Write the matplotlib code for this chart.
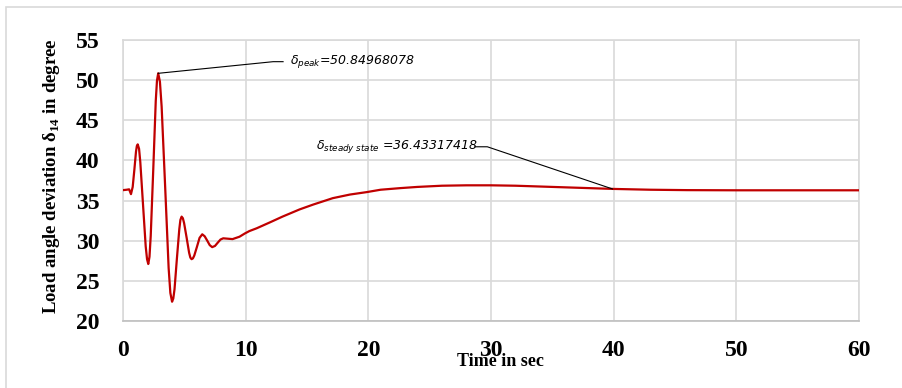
import matplotlib
matplotlib.use("Agg")
import matplotlib.pyplot as plt
from matplotlib.patches import Rectangle

plt.rcParams['mathtext.fontset'] = 'custom'
plt.rcParams['mathtext.rm'] = 'Liberation Serif'
plt.rcParams['mathtext.bf'] = 'Liberation Serif:bold'
plt.rcParams['mathtext.it'] = 'DejaVu Sans:italic'

time_s = [0, 0.3, 0.5, 0.65, 0.79, 0.93, 1.06, 1.13, 1.2, 1.31, 1.41, 1.63, 1.85, 1.96, 2.06,
          2.16, 2.26, 2.47, 2.67, 2.77, 2.87, 3.01, 3.15, 3.44, 3.72, 3.86, 4.0, 4.1, 4.2, 4.39,
          4.59, 4.68, 4.78, 4.88, 4.98, 5.19, 5.39, 5.49, 5.59, 5.7, 5.81, 6.03, 6.24, 6.46,
          6.66, 6.87, 7.07, 7.27, 7.5, 7.72, 7.95, 8.17, 8.55, 8.93, 9.5, 9.93, 10.3, 10.9,
          12, 13, 14.4, 15.5, 17.1, 18.5, 19.85, 21, 22.6, 24, 26, 28, 30, 32, 34, 36, 38, 40,
          43, 46, 50, 55, 60]
delta_deg = [36.3, 36.35, 36.4, 35.8, 36.7, 38.9, 41.1, 41.8, 42.0, 41.45, 39.8, 34.55, 29.3, 27.7, 27.1,
             28.0, 30.6, 39.0, 47.4, 49.95, 50.85, 49.8, 46.7, 36.6, 26.6, 23.5, 22.4, 22.8, 23.95, 27.7,
             31.45, 32.6, 33.0, 32.8, 32.2, 30.35, 28.5, 27.9, 27.7, 27.8, 28.15, 29.25, 30.35, 30.8,
             30.55, 30.0, 29.45, 29.2, 29.35, 29.75, 30.15, 30.3, 30.25, 30.2, 30.5, 30.9, 31.2, 31.55,
             32.3, 33.0, 33.9, 34.5, 35.3, 35.75, 36.05, 36.35, 36.55, 36.7, 36.85, 36.9, 36.9, 36.85,
             36.75, 36.65, 36.55, 36.45, 36.35, 36.3, 36.28, 36.28, 36.28]

x_ticks = [0, 10, 20, 30, 40, 50, 60]
y_ticks = [20, 25, 30, 35, 40, 45, 50, 55]
peak_label = r"$\delta_{peak}$=50.84968078"
steady_label = r"$\delta_{steady\ state}$ =36.43317418"
peak_point = (2.87, 50.85)
steady_point = (39.9, 36.45)

fig = plt.figure(figsize=(9.02, 3.88), dpi=100)
fig.patches.append(Rectangle((6/902, -0.1), 2.0, 1.1 - 7/388, transform=fig.transFigure,
                             fill=False, edgecolor='#d9d9d9', linewidth=1.2))
ax = fig.add_axes([123/902, 67/388, 736/902, 281/388])
ax.plot(time_s, delta_deg, color='#c00000', linewidth=1.6, zorder=3)
ax.set_xlim(0, 60)
ax.set_ylim(20, 55)
ax.set_xticks(x_ticks)
ax.set_yticks(y_ticks)
ax.grid(True, color='#d9d9d9', linewidth=1.2)
ax.set_axisbelow(True)
for s in ax.spines.values():
    s.set_color('#d9d9d9')
    s.set_linewidth(1.2)
ax.spines['bottom'].set_color('#bfbfbf')
ax.tick_params(axis='x', length=0, pad=14)
ax.tick_params(axis='y', length=0, pad=17)
for lab in ax.get_xticklabels() + ax.get_yticklabels():
    lab.set_fontfamily('Liberation Serif')
    lab.set_fontweight('bold')
    lab.set_fontsize(17)

fig.text(500/902, 1 - 361/388, 'Time in sec', family='Liberation Serif', weight='bold',
         fontsize=13, ha='center', va='center')
fig.text(52/902, 1 - 176/388, r"Load angle deviation δ$_{\mathbf{14}}$ in degree",
         family='Liberation Serif', weight='bold', fontsize=13.5, rotation=90,
         ha='center', va='center')

# annotations
ax.plot([peak_point[0], 12.24, 13.05], [peak_point[1], 52.3, 52.3], color='black', linewidth=0.8, zorder=4)
ax.text(13.6, 52.35, peak_label, fontsize=9, style='italic', family='DejaVu Sans',
        ha='left', va='center')
ax.plot([28.7, 29.7, steady_point[0]], [41.7, 41.7, steady_point[1]], color='black', linewidth=0.8, zorder=4)
ax.text(15.7, 41.7, steady_label, fontsize=9, style='italic', family='DejaVu Sans',
        ha='left', va='center')

fig.savefig('out.png', dpi=100)
